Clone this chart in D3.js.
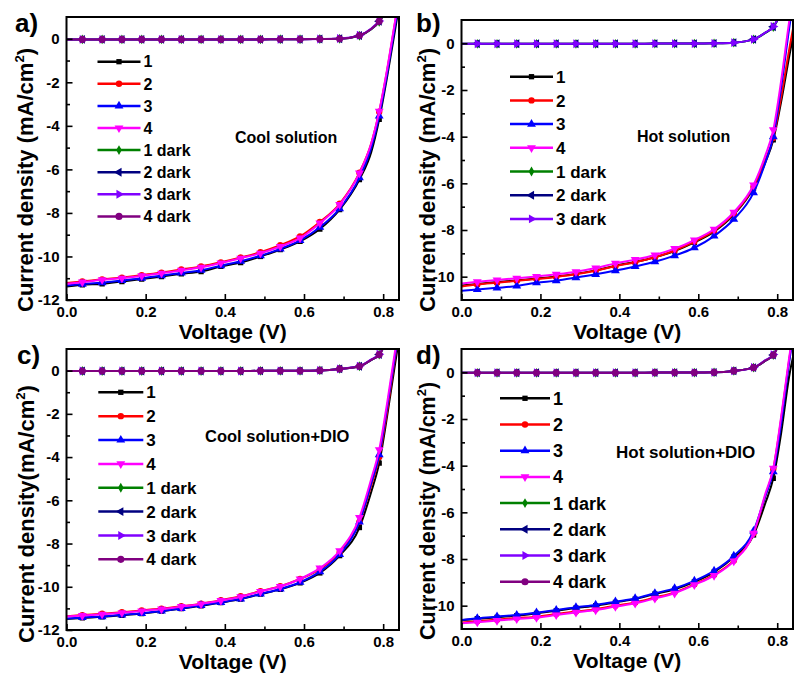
<!DOCTYPE html>
<html><head><meta charset="utf-8">
<script src="https://d3js.org/d3.v7.min.js"></script>
<style>
html,body{margin:0;padding:0;background:#fff;}
text{font-family:"Liberation Sans",Arial,sans-serif;font-weight:bold;}
</style></head>
<body>
<svg id="chart" width="795" height="673"></svg>
<script>
// ---------------- DATA ----------------
const voltage = [0, 0.04, 0.09, 0.14, 0.19, 0.24, 0.29, 0.34, 0.39, 0.44, 0.49, 0.54, 0.59, 0.64, 0.69, 0.74, 0.77, 0.79, 0.81, 0.83, 0.85];
const markedVoltage = [0.04, 0.09, 0.14, 0.19, 0.24, 0.29, 0.34, 0.39, 0.44, 0.49, 0.54, 0.59, 0.64, 0.69, 0.74, 0.79];

const seriesNames = ["1", "2", "3", "4", "1 dark", "2 dark", "3 dark", "4 dark"];
const seriesColors = ["#000000", "#ff0000", "#0000ff", "#ff00ff", "#008000", "#000080", "#8000ff", "#800080"];
const seriesSymbols = ["square", "circle", "triUp", "triDown", "diamond", "triLeft", "triRight", "hex"];

const xTicks = [0.0, 0.2, 0.4, 0.6, 0.8];
const xTickLabels = ["0.0", "0.2", "0.4", "0.6", "0.8"];
const xMinorTicks = [0.1, 0.3, 0.5, 0.7];
const yTicksA = [0, -2, -4, -6, -8, -10, -12];
const yTickLabelsA = ["0", "-2", "-4", "-6", "-8", "-10", "-12"];
const yMinorTicksA = [-1, -3, -5, -7, -9, -11];
const yTicksB = [0, -2, -4, -6, -8, -10];
const yTickLabelsB = ["0", "-2", "-4", "-6", "-8", "-10"];
const yMinorTicksB = [-1, -3, -5, -7, -9];

const panelLabels = ["a)", "b)", "c)", "d)"];
const panelNotes = ["Cool solution", "Hot solution", "Cool solution+DIO", "Hot solution+DIO"];
const yTitles = ["Current density (mA/cm", "Current density (mA/cm", "Current density(mA/cm", "Current density (mA/cm"];
const xTitle = "Voltage (V)";

// Panel a) Cool solution
const coolA1 = [-11.38, -11.30, -11.26, -11.15, -11.04, -10.92, -10.80, -10.69, -10.46, -10.28, -10.00, -9.69, -9.31, -8.74, -7.85, -6.47, -5.20, -3.70, -1.75, 0.40, 2.60];
const coolA2 = [-11.22, -11.15, -11.05, -10.97, -10.86, -10.74, -10.60, -10.46, -10.27, -10.05, -9.80, -9.48, -9.08, -8.42, -7.58, -6.15, -4.80, -3.35, -1.45, 0.75, 2.90];
const coolA3 = [-11.33, -11.27, -11.20, -11.10, -11.00, -10.88, -10.76, -10.63, -10.42, -10.22, -9.96, -9.65, -9.26, -8.66, -7.80, -6.38, -5.00, -3.55, -1.60, 0.60, 2.80];
const coolA4 = [-11.26, -11.18, -11.07, -11.00, -10.89, -10.77, -10.64, -10.50, -10.30, -10.08, -9.85, -9.54, -9.16, -8.47, -7.62, -6.17, -4.80, -3.33, -1.40, 0.80, 3.00];
const coolA1d = [-0.03, -0.03, -0.03, -0.03, -0.03, -0.03, -0.03, -0.03, -0.03, -0.03, -0.03, -0.02, -0.02, -0.01, 0.00, 0.14, 0.44, 0.78, 1.40, 2.20, 3.20];
const coolA2d = [-0.03, -0.03, -0.03, -0.03, -0.03, -0.03, -0.03, -0.03, -0.03, -0.03, -0.03, -0.02, -0.02, -0.01, 0.00, 0.15, 0.45, 0.80, 1.40, 2.20, 3.20];
const coolA3d = [-0.03, -0.03, -0.03, -0.03, -0.03, -0.03, -0.03, -0.03, -0.03, -0.03, -0.03, -0.02, -0.02, -0.01, 0.01, 0.16, 0.47, 0.82, 1.45, 2.25, 3.20];
const coolA4d = [-0.03, -0.03, -0.03, -0.03, -0.03, -0.03, -0.03, -0.03, -0.03, -0.03, -0.03, -0.02, -0.02, -0.01, 0.00, 0.15, 0.45, 0.80, 1.40, 2.20, 3.20];

// Panel b) Hot solution
const hotB1 = [-10.38, -10.31, -10.23, -10.16, -10.08, -9.99, -9.88, -9.73, -9.53, -9.37, -9.17, -8.90, -8.53, -8.07, -7.34, -6.20, -5.10, -4.14, -2.50, -0.60, 1.20];
const hotB2 = [-10.42, -10.34, -10.26, -10.18, -10.10, -10.01, -9.90, -9.75, -9.55, -9.38, -9.17, -8.88, -8.50, -8.03, -7.30, -6.15, -5.00, -4.05, -2.30, -0.30, 1.50];
const hotB3 = [-10.60, -10.55, -10.48, -10.40, -10.26, -10.17, -10.04, -9.90, -9.74, -9.56, -9.36, -9.10, -8.76, -8.26, -7.54, -6.40, -5.10, -4.00, -1.90, 0.60, 2.80];
const hotB4 = [-10.29, -10.22, -10.14, -10.07, -9.99, -9.90, -9.79, -9.63, -9.43, -9.27, -9.07, -8.80, -8.43, -7.97, -7.24, -6.07, -4.80, -3.71, -1.60, 0.90, 3.00];
const hotB1d = [-0.02, -0.02, -0.02, -0.02, -0.02, -0.02, -0.02, -0.02, -0.02, -0.02, -0.01, -0.01, -0.01, 0.00, 0.03, 0.17, 0.45, 0.70, 1.30, 2.10, 3.00];
const hotB2d = [-0.02, -0.02, -0.02, -0.02, -0.02, -0.02, -0.02, -0.02, -0.02, -0.02, -0.01, -0.01, -0.01, 0.00, 0.03, 0.17, 0.46, 0.71, 1.30, 2.10, 3.00];
const hotB3d = [-0.02, -0.02, -0.02, -0.02, -0.02, -0.02, -0.02, -0.02, -0.02, -0.02, -0.01, -0.01, -0.01, 0.00, 0.03, 0.17, 0.46, 0.72, 1.32, 2.10, 3.00];

// Panel c) Cool solution + DIO
const coolDio1 = [-11.49, -11.44, -11.39, -11.32, -11.24, -11.13, -11.01, -10.88, -10.73, -10.57, -10.34, -10.12, -9.82, -9.36, -8.56, -7.26, -5.60, -4.28, -2.10, 0.30, 2.60];
const coolDio2 = [-11.36, -11.31, -11.25, -11.18, -11.10, -11.01, -10.90, -10.78, -10.62, -10.44, -10.20, -9.97, -9.64, -9.18, -8.42, -7.00, -5.30, -4.00, -1.90, 0.60, 2.80];
const coolDio3 = [-11.47, -11.42, -11.38, -11.30, -11.23, -11.12, -11.00, -10.86, -10.72, -10.56, -10.33, -10.10, -9.79, -9.30, -8.50, -7.00, -5.20, -3.89, -1.70, 0.70, 2.90];
const coolDio4 = [-11.38, -11.33, -11.27, -11.20, -11.12, -11.03, -10.92, -10.80, -10.64, -10.46, -10.22, -9.99, -9.64, -9.14, -8.34, -6.80, -5.00, -3.66, -1.50, 0.90, 3.00];
const coolDio1d = [-0.02, -0.02, -0.02, -0.02, -0.02, -0.02, -0.02, -0.02, -0.02, -0.02, -0.01, -0.01, -0.01, 0.01, 0.08, 0.20, 0.50, 0.74, 1.40, 2.20, 3.10];
const coolDio2d = [-0.02, -0.02, -0.02, -0.02, -0.02, -0.02, -0.02, -0.02, -0.02, -0.02, -0.01, -0.01, -0.01, 0.01, 0.08, 0.20, 0.50, 0.74, 1.40, 2.20, 3.10];
const coolDio3d = [-0.02, -0.02, -0.02, -0.02, -0.02, -0.02, -0.02, -0.02, -0.02, -0.02, -0.01, -0.01, -0.01, 0.01, 0.08, 0.21, 0.52, 0.76, 1.42, 2.20, 3.10];
const coolDio4d = [-0.02, -0.02, -0.02, -0.02, -0.02, -0.02, -0.02, -0.02, -0.02, -0.02, -0.01, -0.01, -0.01, 0.01, 0.08, 0.20, 0.50, 0.74, 1.40, 2.20, 3.10];

// Panel d) Hot solution + DIO
const hotDio1 = [-10.63, -10.56, -10.50, -10.43, -10.33, -10.22, -10.10, -10.00, -9.86, -9.72, -9.50, -9.30, -8.98, -8.56, -7.92, -6.97, -5.60, -4.54, -2.60, -0.20, 1.40];
const hotDio2 = [-10.72, -10.67, -10.60, -10.53, -10.47, -10.36, -10.25, -10.15, -10.00, -9.86, -9.65, -9.43, -9.08, -8.68, -8.06, -6.90, -5.30, -4.15, -2.00, 0.50, 2.80];
const hotDio3 = [-10.61, -10.54, -10.47, -10.40, -10.30, -10.19, -10.07, -9.97, -9.83, -9.69, -9.47, -9.26, -8.94, -8.51, -7.87, -6.80, -5.30, -4.26, -2.20, 0.40, 2.70];
const hotDio4 = [-10.76, -10.71, -10.64, -10.57, -10.51, -10.40, -10.29, -10.19, -10.04, -9.90, -9.69, -9.47, -9.11, -8.71, -8.09, -6.90, -5.20, -4.11, -1.90, 0.60, 2.90];
const hotDio1d = [-0.02, -0.02, -0.02, -0.02, -0.02, -0.02, -0.02, -0.02, -0.02, -0.02, -0.01, -0.01, -0.01, 0.00, 0.06, 0.20, 0.50, 0.74, 1.40, 2.20, 3.10];
const hotDio2d = [-0.02, -0.02, -0.02, -0.02, -0.02, -0.02, -0.02, -0.02, -0.02, -0.02, -0.01, -0.01, -0.01, 0.00, 0.06, 0.20, 0.50, 0.74, 1.40, 2.20, 3.10];
const hotDio3d = [-0.02, -0.02, -0.02, -0.02, -0.02, -0.02, -0.02, -0.02, -0.02, -0.02, -0.01, -0.01, -0.01, 0.00, 0.06, 0.21, 0.52, 0.76, 1.42, 2.20, 3.10];
const hotDio4d = [-0.02, -0.02, -0.02, -0.02, -0.02, -0.02, -0.02, -0.02, -0.02, -0.02, -0.01, -0.01, -0.01, 0.00, 0.06, 0.20, 0.50, 0.74, 1.40, 2.20, 3.10];

// ---------------- LAYOUT ----------------
const panels = [
  {series:[coolA1,coolA2,coolA3,coolA4,coolA1d,coolA2d,coolA3d,coolA4d], yMin:-12,
   yTicks:yTicksA, yLab:yTickLabelsA, yMinor:yMinorTicksA,
   L:66.5, R:399, T:17, B:300,
   lab:{x:15, y:32}, note:{x:235, y:143, fs:16},
   yt:{x:33, y:312, fs:22},
   leg:{x:97.5, y:61.7, dy:22.1, len:43, fs:16}},
  {series:[hotB1,hotB2,hotB3,hotB4,hotB1d,hotB2d,hotB3d], yMin:-11,
   yTicks:yTicksB, yLab:yTickLabelsB, yMinor:yMinorTicksB,
   L:461.5, R:793, T:20, B:300,
   lab:{x:416, y:32}, note:{x:637, y:141.5, fs:16},
   yt:{x:435, y:312, fs:22},
   leg:{x:510, y:76.7, dy:23.7, len:43, fs:17}},
  {series:[coolDio1,coolDio2,coolDio3,coolDio4,coolDio1d,coolDio2d,coolDio3d,coolDio4d], yMin:-12,
   yTicks:yTicksA, yLab:yTickLabelsA, yMinor:yMinorTicksA,
   L:66.5, R:399, T:349, B:630,
   lab:{x:17, y:364}, note:{x:205, y:442, fs:16.5},
   yt:{x:34, y:643, fs:22},
   leg:{x:98.3, y:392.3, dy:23.86, len:45, fs:17}},
  {series:[hotDio1,hotDio2,hotDio3,hotDio4,hotDio1d,hotDio2d,hotDio3d,hotDio4d], yMin:-11,
   yTicks:yTicksB, yLab:yTickLabelsB, yMinor:yMinorTicksB,
   L:461.5, R:793, T:349, B:629,
   lab:{x:416, y:364}, note:{x:616, y:457.5, fs:17},
   yt:{x:435, y:640, fs:21.5},
   leg:{x:500, y:398.3, dy:26.2, len:50, fs:18}}
];

const svg = d3.select("#chart");

function symbolPath(kind, size) {
  const m = {
    square: d3.symbolSquare, circle: d3.symbolCircle, diamond: d3.symbolDiamond,
    triUp: d3.symbolTriangle, triDown: d3.symbolTriangle, triLeft: d3.symbolTriangle,
    triRight: d3.symbolTriangle, hex: d3.symbolCircle
  };
  return d3.symbol().type(m[kind]).size(size)();
}
const symbolRotate = {triDown:180, triLeft:-90, triRight:90};
const symbolSize = {square:28, circle:32, triUp:34, triDown:34, diamond:28, triLeft:34, triRight:34, hex:40};

function isMarked(v) {
  return markedVoltage.some(m => Math.abs(m - v) < 1e-9);
}
const FONT = '"Liberation Sans",Arial,sans-serif';

panels.forEach((p, pi) => {
  const x = d3.scaleLinear().domain([0, 0.84]).range([p.L, p.R]);
  const y = d3.scaleLinear().domain([p.yMin, 1]).range([p.B, p.T]);
  const g = svg.append("g");

  const clipId = "clip" + pi;
  svg.append("clipPath").attr("id", clipId).append("rect")
    .attr("x", p.L).attr("y", p.T).attr("width", p.R - p.L).attr("height", p.B - p.T);

  const plot = g.append("g").attr("clip-path", `url(#${clipId})`);
  const line = d3.line().x(d => x(d[0])).y(d => y(d[1])).curve(d3.curveMonotoneX);

  p.series.forEach((vals, si) => {
    const pts = voltage.map((v, i) => [v, vals[i]]);
    plot.append("path").attr("d", line(pts))
      .attr("fill", "none").attr("stroke", seriesColors[si]).attr("stroke-width", 2);
    const kind = seriesSymbols[si];
    plot.selectAll(null).data(pts.filter(d => isMarked(d[0]))).enter().append("path")
      .attr("d", symbolPath(kind, symbolSize[kind]))
      .attr("transform", d => `translate(${x(d[0])},${y(d[1])}) rotate(${symbolRotate[kind] || 0})`)
      .attr("fill", seriesColors[si]);
  });

  // axes (ticks inward)
  const xAxis = d3.axisBottom(x).tickValues(xTicks).tickSizeInner(-6).tickSizeOuter(0)
    .tickFormat((d, i) => xTickLabels[i]).tickPadding(6);
  const gx = g.append("g").attr("transform", `translate(0,${p.B})`).call(xAxis);
  gx.select(".domain").remove();
  gx.selectAll("line").attr("stroke", "#000").attr("stroke-width", 1.6);
  gx.selectAll("text").attr("font-size", 15).attr("fill", "#000")
    .attr("font-family", FONT).attr("font-weight", "bold");

  const xMinor = d3.axisBottom(x).tickValues(xMinorTicks).tickSizeInner(-3.5).tickSizeOuter(0).tickFormat("");
  const gxm = g.append("g").attr("transform", `translate(0,${p.B})`).call(xMinor);
  gxm.select(".domain").remove();
  gxm.selectAll("line").attr("stroke", "#000").attr("stroke-width", 1.6);

  const yAxis = d3.axisLeft(y).tickValues(p.yTicks).tickSizeInner(-6).tickSizeOuter(0)
    .tickFormat((d, i) => p.yLab[i]).tickPadding(7);
  const gy = g.append("g").attr("transform", `translate(${p.L},0)`).call(yAxis);
  gy.select(".domain").remove();
  gy.selectAll("line").attr("stroke", "#000").attr("stroke-width", 1.6);
  gy.selectAll("text").attr("font-size", 15).attr("fill", "#000")
    .attr("font-family", FONT).attr("font-weight", "bold");

  const yMinor = d3.axisLeft(y).tickValues(p.yMinor).tickSizeInner(-3.5).tickSizeOuter(0).tickFormat("");
  const gym = g.append("g").attr("transform", `translate(${p.L},0)`).call(yMinor);
  gym.select(".domain").remove();
  gym.selectAll("line").attr("stroke", "#000").attr("stroke-width", 1.6);

  // frame
  g.append("rect").attr("x", p.L).attr("y", p.T).attr("width", p.R - p.L).attr("height", p.B - p.T)
    .attr("fill", "none").attr("stroke", "#000").attr("stroke-width", 2);

  // x title
  g.append("text").attr("x", (p.L + p.R) / 2).attr("y", p.B + 39).attr("text-anchor", "middle")
    .attr("font-size", 21).attr("fill", "#000").text(xTitle);

  // y title
  const yt = g.append("text").attr("transform", `translate(${p.yt.x},${p.yt.y}) rotate(-90)`)
    .attr("font-size", p.yt.fs).attr("fill", "#000");
  yt.append("tspan").text(yTitles[pi]);
  yt.append("tspan").attr("font-size", p.yt.fs * 0.6).attr("dy", -p.yt.fs * 0.42).text("2");
  yt.append("tspan").attr("dy", p.yt.fs * 0.42).text(")");

  // panel label
  g.append("text").attr("x", p.lab.x).attr("y", p.lab.y).attr("font-size", 26).attr("fill", "#000").text(panelLabels[pi]);

  // annotation
  g.append("text").attr("x", p.note.x).attr("y", p.note.y).attr("font-size", p.note.fs).attr("fill", "#000").text(panelNotes[pi]);

  // legend
  p.series.forEach((vals, si) => {
    const ly = p.leg.y + si * p.leg.dy;
    const kind = seriesSymbols[si];
    g.append("line").attr("x1", p.leg.x).attr("x2", p.leg.x + p.leg.len).attr("y1", ly).attr("y2", ly)
      .attr("stroke", seriesColors[si]).attr("stroke-width", 2.5);
    g.append("path").attr("d", symbolPath(kind, symbolSize[kind]))
      .attr("transform", `translate(${p.leg.x + p.leg.len / 2},${ly}) rotate(${symbolRotate[kind] || 0})`)
      .attr("fill", seriesColors[si]);
    g.append("text").attr("x", p.leg.x + p.leg.len + 3).attr("y", ly + p.leg.fs * 0.36)
      .attr("font-size", p.leg.fs).attr("fill", "#000").text(seriesNames[si]);
  });
});
</script>
</body></html>
